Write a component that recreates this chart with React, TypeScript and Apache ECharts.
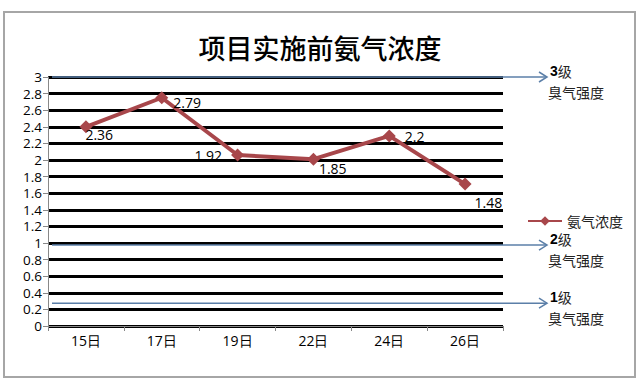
import React, { useEffect, useRef } from "react";
import * as echarts from "echarts";

const categories = ["15日", "17日", "19日", "22日", "24日", "26日"];
const pointValues = [2.4, 2.75, 2.06, 2.01, 2.29, 1.71];
const labelTexts = ["2.36", "2.79", "1.92", "1.85", "2.2", "1.48"];
const seriesName = "氨气浓度";
const levelValues = [3, 0.975, 0.275];
const levelNames = ["3", "2", "1"];
const levelCaption = "臭气强度";
const titleText = "项目实施前氨气浓度";

const labelLayout: any[] = [
  { position: "right", offset: [-12, 8] },
  { position: "right", offset: [0, 5] },
  { position: "left", offset: [-4, 0] },
  { position: "right", offset: [-6, 9] },
  { position: "right", offset: [4, 1] },
  { position: "right", offset: [-2, 18] },
];

export default function App() {
  const ref = useRef<HTMLDivElement>(null);
  useEffect(() => {
    if (!ref.current) return;
    const chart = echarts.init(ref.current, null, { renderer: "svg" });
    const lineColor = "#a8474b";
    chart.setOption({
      animation: false,
      backgroundColor: "#fff",
      title: {
        text: titleText,
        left: "center",
        top: 29,
        textStyle: {
          fontFamily: "Noto Sans CJK SC",
          fontSize: 27,
          fontWeight: 500,
          color: "#000",
        },
      },
      legend: {
        left: 522,
        top: 209,
        itemWidth: 34,
        itemHeight: 12,
        itemGap: 4,
        data: [seriesName],
        textStyle: { fontFamily: "Noto Sans CJK SC", fontSize: 14, color: "#222" },
      },
      grid: { left: 48, right: 137, top: 77, bottom: 59, containLabel: false },
      xAxis: {
        type: "category",
        data: categories,
        boundaryGap: true,
        axisLine: { lineStyle: { color: "#888", width: 1 } },
        axisTick: { show: true, length: 5, lineStyle: { color: "#888" } },
        axisLabel: { fontFamily: "Open Sans", fontSize: 14, color: "#000", margin: 7 },
      },
      yAxis: {
        type: "value",
        min: 0,
        max: 3,
        interval: 0.2,
        axisLine: { show: true, lineStyle: { color: "#888", width: 1 } },
        axisTick: { show: true, length: 5, lineStyle: { color: "#888" } },
        axisLabel: {
          fontFamily: "Open Sans",
          fontSize: 13.5,
          lineHeight: 15,
          color: "#000",
          margin: 6,
          formatter: (v: number) => String(Math.round(v * 10) / 10),
        },
        splitLine: { show: true, lineStyle: { color: "#000", width: 2.8 } },
      },
      series: [
        {
          name: seriesName,
          type: "line",
          data: pointValues.map((v, i) => ({
            value: v,
            label: {
              show: true,
              formatter: labelTexts[i],
              position: labelLayout[i].position,
              offset: labelLayout[i].offset,
              fontFamily: "Open Sans",
              fontSize: 14,
              color: "#000",
            },
          })),
          symbol: "diamond",
          symbolSize: 13,
          lineStyle: { color: lineColor, width: 4 },
          itemStyle: { color: lineColor },
          z: 5,
        },
      ],
    });

    const blue = "#5b7fa8";
    const graphics: any[] = [
      {
        type: "rect",
        shape: { x: 4, y: 12, width: 631, height: 365 },
        style: { fill: "none", stroke: "#a6a6a6", lineWidth: 2 },
        z: 0,
      },
    ];
    levelValues.forEach((v, i) => {
      const y = chart.convertToPixel({ yAxisIndex: 0 }, v) as number;
      graphics.push({
        type: "line",
        shape: { x1: 52, y1: y, x2: 547, y2: y },
        style: { stroke: blue, lineWidth: 1.5 },
        z: 10,
      });
      graphics.push({
        type: "polyline",
        shape: { points: [[539, y - 5], [547, y], [539, y + 5]] },
        style: { stroke: blue, lineWidth: 1.5, fill: "none" },
        z: 10,
      });
      graphics.push({
        type: "text",
        x: 550,
        y: y - 6,
        style: {
          text: "{b|" + levelNames[i] + "}级",
          rich: { b: { fontWeight: "bold", fontFamily: "Liberation Sans", fontSize: 14, fill: "#000" } },
          fontFamily: "Noto Sans CJK SC",
          fontSize: 14,
          fill: "#222",
          verticalAlign: "middle",
        },
        z: 10,
      });
      graphics.push({
        type: "text",
        x: 548,
        y: y + 15,
        style: {
          text: levelCaption,
          fontFamily: "Noto Sans CJK SC",
          fontSize: 14,
          fill: "#222",
          verticalAlign: "middle",
        },
        z: 10,
      });
    });
    chart.setOption({ graphic: graphics });
    return () => chart.dispose();
  }, []);
  return (
    <div
      ref={ref}
      style={{ position: "fixed", left: 0, top: 0, width: 640, height: 385 }}
    />
  );
}
